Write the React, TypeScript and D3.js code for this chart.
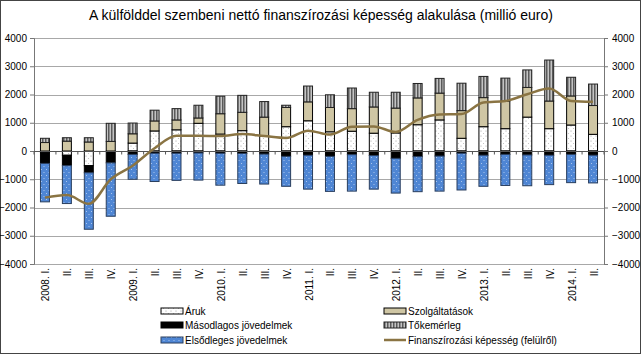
import React, { useEffect, useRef } from "react";
import * as d3 from "d3";

const quarters = [
  "2008. I.", "II.", "III.", "IV.",
  "2009. I.", "II.", "III.", "IV.",
  "2010. I.", "II.", "III.", "IV.",
  "2011. I.", "II.", "III.", "IV.",
  "2012. I.", "II.", "III.", "IV.",
  "2013. I.", "II.", "III.", "IV.",
  "2014. I.", "II.",
];

// values in million euro
const aruk = [-60, -150, -520, -20, 280, 710, 750, 980, 600, 720, 520, 860, 1070, 680, 700, 630, 640, 930, 1100, 450, 860, 790, 1200, 790, 920, 590];
const szolgaltatasok = [300, 350, 320, 340, 330, 355, 350, 190, 720, 650, 680, 680, 670, 860, 800, 930, 880, 950, 950, 980, 1030, 980, 1050, 980, 1030, 1020];
const masodlagos = [-380, -370, -250, -400, -120, -80, -80, -70, -80, -90, -110, -190, -150, -190, -130, -160, -260, -200, -180, -80, -150, -120, -140, -150, -120, -150];
const tokemerleg = [150, 120, 150, 640, 380, 380, 400, 450, 620, 600, 550, 80, 560, 450, 730, 520, 560, 510, 520, 970, 750, 810, 620, 1450, 660, 760];
const elsodleges = [-1360, -1340, -2000, -1890, -880, -1000, -960, -960, -1130, -1060, -1060, -1060, -1200, -1240, -1290, -1190, -1230, -1240, -1240, -1300, -1100, -1100, -1090, -1040, -1000, -980];
const finanszirozasi = [-1650, -1560, -1870, -1000, -520, 100, 540, 540, 530, 600, 530, 460, 720, 580, 860, 870, 670, 1100, 1290, 1310, 1720, 1770, 2010, 2210, 1770, 1740];

const yTicks = [4000, 3000, 2000, 1000, 0, -1000, -2000, -3000, -4000];

const seriesKeys = ["aruk", "szolg", "masod", "toke", "elsod"];
const seriesNames = {
  aruk: "Áruk",
  szolg: "Szolgáltatások",
  masod: "Másodlagos jövedelmek",
  toke: "Tőkemérleg",
  elsod: "Elsődleges jövedelmek",
};

const App = () => {
  const svgRef = useRef(null);

  useEffect(() => {
    const width = 641;
    const height = 354;
    const font = "'Liberation Sans Narrow', 'Liberation Sans', Arial, sans-serif";

    const svg = d3.select(svgRef.current);
    svg.selectAll("*").remove();
    svg.attr("width", width).attr("height", height);

    const left = 34, right = 604, top = 38, bottom = 264;

    const rows = quarters.map((q, i) => ({
      i,
      aruk: aruk[i],
      szolg: szolgaltatasok[i],
      masod: masodlagos[i],
      toke: tokemerleg[i],
      elsod: elsodleges[i],
    }));

    const x = d3.scaleBand()
      .domain(quarters.map((_, i) => i))
      .range([left, right])
      .paddingInner(0.59)
      .paddingOuter(0.295);

    const y = d3.scaleLinear().domain([-4000, 4000]).range([bottom, top]);

    // patterns
    const defs = svg.append("defs");
    const pDots = defs.append("pattern").attr("id", "p-aruk")
      .attr("patternUnits", "userSpaceOnUse").attr("width", 5).attr("height", 5);
    pDots.append("rect").attr("width", 5).attr("height", 5).attr("fill", "#fff");
    pDots.append("circle").attr("cx", 1).attr("cy", 1).attr("r", 0.55).attr("fill", "#999");
    pDots.append("circle").attr("cx", 3.5).attr("cy", 3.5).attr("r", 0.55).attr("fill", "#bbb");

    const pStripes = defs.append("pattern").attr("id", "p-toke")
      .attr("patternUnits", "userSpaceOnUse").attr("width", 3).attr("height", 3);
    pStripes.append("rect").attr("width", 3).attr("height", 3).attr("fill", "#c4c4c4");
    pStripes.append("rect").attr("width", 1.5).attr("height", 3).attr("fill", "#5a5a5a");

    const pBlue = defs.append("pattern").attr("id", "p-elsod")
      .attr("patternUnits", "userSpaceOnUse").attr("width", 5).attr("height", 6);
    pBlue.append("rect").attr("width", 5).attr("height", 6).attr("fill", "#4f86d4");
    pBlue.append("circle").attr("cx", 1.5).attr("cy", 1.5).attr("r", 0.5).attr("fill", "#c8dcf5");
    pBlue.append("circle").attr("cx", 4).attr("cy", 4.5).attr("r", 0.5).attr("fill", "#c8dcf5");

    const fills = {
      aruk: "url(#p-aruk)",
      szolg: "#cfc6a4",
      masod: "#000",
      toke: "url(#p-toke)",
      elsod: "url(#p-elsod)",
    };
    const strokes = { aruk: "#000", szolg: "#000", masod: "#000", toke: "#222", elsod: "#2a3f5f" };

    // frame
    svg.append("rect")
      .attr("x", 0.5).attr("y", 0.5)
      .attr("width", width - 1).attr("height", height - 1)
      .attr("fill", "#fff").attr("stroke", "#444");

    // title
    svg.append("text")
      .attr("x", 321).attr("y", 20)
      .attr("text-anchor", "middle")
      .style("font-family", font)
      .style("font-size", "14px")
      .attr("fill", "#000")
      .text("A külfölddel szembeni nettó finanszírozási képesség alakulása (millió euro)");

    // gridlines
    svg.append("g").selectAll("line")
      .data(yTicks.filter(d => d !== 0))
      .enter().append("line")
      .attr("x1", left).attr("x2", right)
      .attr("y1", d => Math.round(y(d)) + 0.5).attr("y2", d => Math.round(y(d)) + 0.5)
      .attr("stroke", "#a8a8a8");

    // y axes
    const yl = svg.append("g").attr("transform", `translate(${left},0)`)
      .call(d3.axisLeft(y).tickValues(yTicks).tickSize(4).tickFormat(d3.format("d")));
    const yr = svg.append("g").attr("transform", `translate(${right},0)`)
      .call(d3.axisRight(y).tickValues(yTicks).tickSize(4).tickFormat(d3.format("d")));
    [yl, yr].forEach(g => {
      g.select(".domain").attr("stroke", "#777");
      g.selectAll(".tick line").attr("stroke", "#777");
      g.selectAll(".tick text")
        .style("font-family", font).style("font-size", "10px").attr("fill", "#000");
    });
    yl.selectAll(".tick text").attr("x", -7);
    yr.selectAll(".tick text").attr("x", 8);

    // stacked bars
    const stacked = d3.stack()
      .keys(seriesKeys)
      .offset(d3.stackOffsetDiverging)(rows);

    const bars = svg.append("g");
    stacked.forEach(layer => {
      bars.append("g").selectAll("rect")
        .data(layer)
        .enter().append("rect")
        .attr("x", (d, j) => x(j))
        .attr("width", x.bandwidth())
        .attr("y", d => y(Math.max(d[0], d[1])))
        .attr("height", d => Math.abs(y(d[0]) - y(d[1])))
        .attr("fill", fills[layer.key])
        .attr("stroke", strokes[layer.key])
        .attr("stroke-width", 1);
    });

    // zero axis with category ticks
    const y0 = Math.round(y(0)) + 0.5;
    svg.append("line")
      .attr("x1", left).attr("x2", right)
      .attr("y1", y0).attr("y2", y0)
      .attr("stroke", "#555");
    svg.append("g").selectAll("line")
      .data(d3.range(quarters.length + 1))
      .enter().append("line")
      .attr("x1", d => left + d * x.step())
      .attr("x2", d => left + d * x.step())
      .attr("y1", y0).attr("y2", y0 + 3)
      .attr("stroke", "#555");

    // line
    const line = d3.line()
      .x((d, i) => x(i) + x.bandwidth() / 2)
      .y(d => y(d))
      .curve(d3.curveMonotoneX);
    svg.append("path")
      .datum(finanszirozasi)
      .attr("d", line)
      .attr("fill", "none")
      .attr("stroke", "#8a7443")
      .attr("stroke-width", 2.5);

    // x labels
    svg.append("g").selectAll("text")
      .data(quarters)
      .enter().append("text")
      .attr("transform", (d, i) => `translate(${x(i) + x.bandwidth() / 2 + 1},268) rotate(-90)`)
      .attr("text-anchor", "end")
      .attr("dy", "0.35em")
      .style("font-family", font)
      .style("font-size", "10px")
      .attr("fill", "#000")
      .text(d => d);

    // legend
    const legendItems = [
      { key: "aruk", col: 0, row: 0 },
      { key: "szolg", col: 1, row: 0 },
      { key: "masod", col: 0, row: 1 },
      { key: "toke", col: 1, row: 1 },
      { key: "elsod", col: 0, row: 2 },
      { key: "line", col: 1, row: 2 },
    ];
    const colX = [161, 384];
    const rowY = [311, 325, 340];
    const lg = svg.append("g");
    legendItems.forEach(it => {
      const lx = colX[it.col], ly = rowY[it.row];
      if (it.key === "line") {
        lg.append("line")
          .attr("x1", lx).attr("x2", lx + 22)
          .attr("y1", ly).attr("y2", ly)
          .attr("stroke", "#8a7443").attr("stroke-width", 2.5);
      } else {
        lg.append("rect")
          .attr("x", lx).attr("y", ly - 3)
          .attr("width", 22).attr("height", 6)
          .attr("fill", fills[it.key])
          .attr("stroke", strokes[it.key]);
      }
      lg.append("text")
        .attr("x", lx + 24).attr("y", ly)
        .attr("dy", "0.35em")
        .style("font-family", font)
        .style("font-size", "10px")
        .attr("fill", "#000")
        .text(it.key === "line" ? "Finanszírozási képesség (felülről)" : seriesNames[it.key]);
    });
  }, []);

  return (
    <svg ref={svgRef} style={{ position: "absolute", left: 0, top: 0, display: "block" }} />
  );
};

export default App;
